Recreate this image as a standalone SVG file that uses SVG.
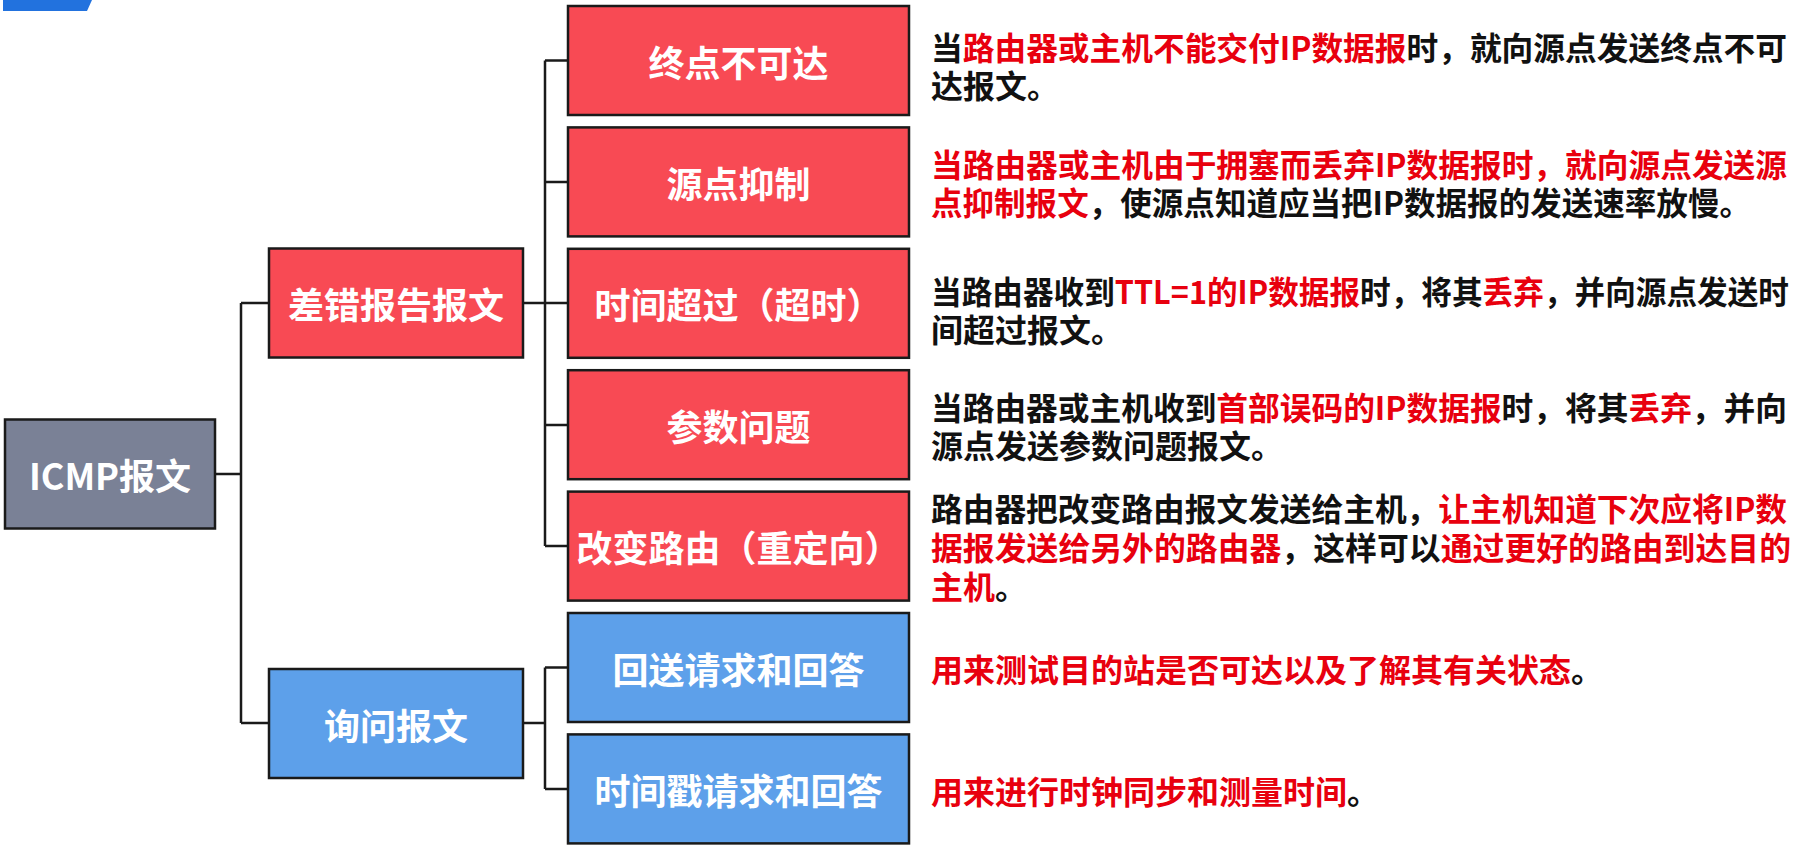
<svg xmlns="http://www.w3.org/2000/svg" width="1800" height="849" viewBox="0 0 1800 849">
<style>
.box{stroke:#1a1a1a;stroke-width:2.5}
.red{fill:#F84A54}
.blue{fill:#5DA0EA}
.grey{fill:#7A8196}
.lbl{font-family:"Noto Sans CJK SC","Noto Sans",sans-serif;font-weight:bold;font-size:36px;fill:#fff;text-anchor:middle;dominant-baseline:central}
.desc{font-family:"Noto Sans CJK SC","Noto Sans",sans-serif;font-weight:bold;font-size:32px;fill:#111;dominant-baseline:central}
.r{fill:#E8000E}
.conn{fill:none;stroke:#1a1a1a;stroke-width:2.5}
</style>
<rect width="1800" height="849" fill="#fff"/>
<polygon points="3,0 92,0 87,11 3,11" fill="#2272DE"/>

<g id="connectors" class="conn">
<path d="M215,474 H241 M241,303 V723 M241,303 H269 M241,723 H269"/>
<path d="M523,303 H545 M545,60.5 V546 M545,60.5 H568 M545,182 H568 M545,303 H568 M545,425 H568 M545,546 H568"/>
<path d="M523,723 H545 M545,667.5 V789 M545,667.5 H568 M545,789 H568"/>
</g>

<g id="icmp">
<rect class="box grey" x="5" y="419.5" width="210" height="109"/>
<text class="lbl" x="110" y="474">ICMP报文</text>
</g>

<g id="chacuo">
<rect class="box red" x="269" y="248.5" width="254" height="109"/>
<text class="lbl" x="396" y="303">差错报告报文</text>
</g>

<g id="xunwen">
<rect class="box blue" x="269" y="669" width="254" height="109"/>
<text class="lbl" x="396" y="723.5">询问报文</text>
</g>

<g id="n1">
<rect class="box red" x="568" y="6" width="341" height="109"/>
<text class="lbl" x="738.5" y="60.5">终点不可达</text>
</g>
<g id="n2">
<rect class="box red" x="568" y="127.4" width="341" height="109"/>
<text class="lbl" x="738.5" y="182">源点抑制</text>
</g>
<g id="n3">
<rect class="box red" x="568" y="248.8" width="341" height="109"/>
<text class="lbl" x="738.5" y="303.3">时间超过（超时）</text>
</g>
<g id="n4">
<rect class="box red" x="568" y="370.2" width="341" height="109"/>
<text class="lbl" x="738.5" y="424.7">参数问题</text>
</g>
<g id="n5">
<rect class="box red" x="568" y="491.6" width="341" height="109"/>
<text class="lbl" x="738.5" y="546">改变路由（重定向）</text>
</g>
<g id="n6">
<rect class="box blue" x="568" y="613" width="341" height="109"/>
<text class="lbl" x="738.5" y="667.5">回送请求和回答</text>
</g>
<g id="n7">
<rect class="box blue" x="568" y="734.4" width="341" height="109"/>
<text class="lbl" x="738.5" y="789">时间戳请求和回答</text>
</g>

<g id="desc1">
<text class="desc" x="931" y="46" textLength="856" lengthAdjust="spacingAndGlyphs">当<tspan class="r">路由器或主机不能交付IP数据报</tspan>时，就向源点发送终点不可</text>
<text class="desc" x="931" y="84">达报文。</text>
</g>
<g id="desc2">
<text class="desc" x="931" y="163" textLength="856" lengthAdjust="spacingAndGlyphs"><tspan class="r">当路由器或主机由于拥塞而丢弃IP数据报时，就向源点发送源</tspan></text>
<text class="desc" x="931" y="201" textLength="820" lengthAdjust="spacingAndGlyphs"><tspan class="r">点抑制报文</tspan>，使源点知道应当把IP数据报的发送速率放慢。</text>
</g>
<g id="desc3">
<text class="desc" x="931" y="290" textLength="858" lengthAdjust="spacingAndGlyphs">当路由器收到<tspan class="r">TTL=1的IP数据报</tspan>时，将其<tspan class="r">丢弃</tspan>，并向源点发送时</text>
<text class="desc" x="931" y="328">间超过报文。</text>
</g>
<g id="desc4">
<text class="desc" x="931" y="406" textLength="856" lengthAdjust="spacingAndGlyphs">当路由器或主机收到<tspan class="r">首部误码的IP数据报</tspan>时，将其<tspan class="r">丢弃</tspan>，并向</text>
<text class="desc" x="931" y="444">源点发送参数问题报文。</text>
</g>
<g id="desc5">
<text class="desc" x="931" y="507" textLength="856" lengthAdjust="spacingAndGlyphs">路由器把改变路由报文发送给主机，<tspan class="r">让主机知道下次应将IP数</tspan></text>
<text class="desc" x="931" y="546" textLength="860" lengthAdjust="spacingAndGlyphs"><tspan class="r">据报发送给另外的路由器</tspan>，这样可以<tspan class="r">通过更好的路由到达目的</tspan></text>
<text class="desc" x="931" y="585"><tspan class="r">主机</tspan>。</text>
</g>
<g id="desc6">
<text class="desc" x="931" y="668"><tspan class="r">用来测试目的站是否可达以及了解其有关状态</tspan>。</text>
</g>
<g id="desc7">
<text class="desc" x="931" y="790"><tspan class="r">用来进行时钟同步和测量时间</tspan>。</text>
</g>
</svg>
